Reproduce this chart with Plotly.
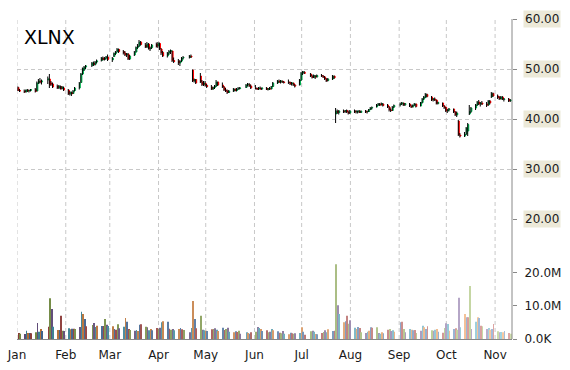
import pandas as pd
import plotly.graph_objects as go

# ---------------- data (XLNX daily, 2014) ----------------
ticker = "XLNX"
holidays = ["2014-01-01", "2014-01-20", "2014-02-17", "2014-04-18",
            "2014-05-26", "2014-07-04", "2014-09-01"]
start_date, end_date = "2014-01-02", "2014-11-11"

open_ = [
    46.3,45.7,45.6,45.4,45.8,45.6,45.7,45.9,45.6,47.2,47.6,47.4,47.8,48.0,47.2,47.0,46.6,46.2,46.5,46.1,46.2,
    45.8,45.0,45.3,45.1,45.7,46.2,47.3,49.0,49.8,50.4,50.7,51.2,50.9,51.4,51.7,52.2,51.9,52.2,52.4,
    51.8,52.5,53.1,53.5,53.9,53.5,53.2,52.8,53.0,52.0,52.8,53.4,54.3,54.6,55.4,54.8,54.4,55.0,54.0,54.3,55.0,
    54.6,55.1,54.0,53.3,52.6,53.2,53.5,53.6,51.7,51.6,51.2,51.6,52.2,52.3,52.6,49.8,47.6,47.9,48.6,47.4,46.9,
    47.2,46.7,46.4,46.0,46.3,46.6,47.4,46.8,46.4,45.8,45.6,45.3,45.6,46.0,45.7,46.0,46.1,46.3,46.8,46.9,46.6,
    46.2,46.1,46.0,46.2,46.0,46.2,45.9,46.1,46.0,46.5,47.2,47.6,47.4,47.6,47.4,47.4,47.3,47.0,47.2,46.8,46.8,
    47.8,49.2,49.4,49.0,48.6,48.3,48.6,48.4,48.7,48.6,48.4,48.0,47.7,48.0,48.6,41.0,41.6,41.3,41.6,41.5,41.7,41.4,
    41.2,41.6,41.4,41.4,41.6,41.3,41.6,41.4,41.5,41.9,42.2,42.4,42.8,43.0,42.8,43.0,42.8,42.4,41.8,41.7,42.4,
    42.8,43.0,43.2,42.8,43.0,42.6,42.4,42.8,43.0,42.6,43.3,44.0,44.4,44.9,44.4,43.8,44.0,43.8,43.1,43.2,42.6,
    42.3,41.6,41.8,42.0,41.4,40.8,39.6,36.8,36.6,37.0,37.6,41.0,41.5,42.2,42.8,43.4,43.0,43.2,43.0,42.8,43.6,44.4,45.1,
    44.6,44.3,44.0,44.4,43.9,44.0,43.6,
]
high = [
    46.5,46.0,45.9,45.9,46.0,45.9,46.0,46.2,47.5,48.0,48.2,47.9,48.5,49.0,47.6,47.3,46.9,46.8,46.7,46.6,46.5,
    46.0,45.6,45.5,45.8,46.4,47.4,49.2,50.3,50.6,50.8,51.4,51.5,51.6,51.9,52.4,52.5,52.4,52.6,52.9,
    52.4,53.3,53.6,54.2,54.1,53.8,53.6,53.2,53.2,52.8,53.6,54.5,55.0,55.8,55.6,55.2,55.4,55.2,54.5,55.0,55.3,
    55.4,55.3,54.2,53.6,53.4,53.8,53.9,53.7,52.3,52.0,51.8,52.4,52.6,52.8,52.9,49.9,48.1,48.0,49.2,47.8,47.6,
    47.6,47.0,46.8,46.5,46.8,47.8,47.5,47.3,46.6,46.2,45.9,45.8,46.2,46.1,46.2,46.4,46.4,47.0,47.2,47.2,46.9,
    46.8,46.3,46.4,46.5,46.3,46.4,46.2,46.4,46.6,47.4,47.8,47.9,47.8,47.7,47.6,47.9,47.5,47.4,47.3,47.0,48.0,
    49.4,49.6,49.6,49.2,48.9,48.9,48.8,48.9,49.0,48.8,48.6,48.2,48.2,48.8,48.7,42.2,41.9,41.8,41.9,41.8,41.9,41.7,
    41.8,41.9,41.8,41.7,41.8,41.7,41.8,41.7,42.0,42.4,42.5,43.0,43.2,43.2,43.3,43.2,43.0,42.6,42.1,42.6,42.9,
    43.3,43.4,43.3,43.2,43.2,42.9,42.9,43.2,43.1,43.4,44.2,44.6,45.2,45.1,44.6,44.2,44.3,43.9,43.5,43.3,42.8,
    42.4,42.0,42.2,42.1,41.6,41.5,39.8,37.2,37.4,38.4,39.2,42.8,42.4,43.0,43.6,43.8,43.4,43.6,43.4,43.8,43.8,45.4,45.3,
    44.9,44.6,44.6,44.6,44.2,44.2,44.0,
]
low = [
    45.6,45.4,45.2,45.3,45.4,45.3,45.5,45.3,45.5,47.0,47.1,46.9,47.0,46.2,46.6,46.2,46.0,46.0,45.9,45.9,45.6,
    44.8,44.7,44.6,45.0,45.5,45.9,47.2,48.8,49.6,50.0,50.4,50.6,50.7,51.1,51.5,51.7,51.7,51.9,51.6,
    51.4,52.4,52.8,53.3,53.2,52.9,52.6,52.4,51.8,51.8,52.6,53.3,54.0,54.4,54.7,54.2,54.2,53.9,53.6,54.0,54.3,
    54.2,53.8,52.8,52.4,52.3,52.8,53.0,51.4,51.2,50.8,50.6,51.4,51.9,52.1,52.2,47.4,47.3,47.0,47.2,46.6,46.6,
    46.5,46.2,45.8,45.8,46.0,46.4,46.6,46.2,45.6,45.4,45.0,45.2,45.4,45.5,45.5,45.8,45.9,46.2,46.5,46.4,46.0,
    45.9,45.8,45.8,45.9,45.8,45.8,45.7,45.8,45.9,46.4,47.0,47.2,47.1,47.2,47.1,47.0,46.8,46.7,46.6,46.3,46.7,
    47.6,48.8,49.0,48.4,48.1,48.2,48.0,48.3,48.4,48.2,47.8,47.4,47.5,47.8,48.0,39.2,41.0,40.9,41.2,41.2,41.2,40.9,
    41.0,41.2,41.1,41.1,41.2,41.2,41.2,41.1,41.4,41.8,41.9,42.3,42.6,42.6,42.7,42.5,42.2,41.5,41.4,41.6,42.2,
    42.5,42.8,42.6,42.6,42.4,42.2,42.3,42.6,42.3,42.5,43.1,43.8,44.2,44.3,43.6,43.5,43.6,42.9,42.9,42.4,42.0,
    41.4,41.2,41.5,41.2,40.6,40.4,36.6,36.3,36.4,36.8,36.6,40.8,41.2,41.8,42.6,42.8,42.5,42.8,42.4,42.6,42.9,44.2,44.4,
    44.0,43.8,43.9,43.8,43.5,43.4,43.4,
]
close = [
    45.7,45.6,45.4,45.8,45.6,45.7,45.9,45.5,47.2,47.6,47.4,47.6,48.0,46.8,47.0,46.4,46.2,46.6,46.0,46.4,45.8,
    45.0,45.3,45.0,45.6,46.2,47.2,49.0,50.1,50.4,50.6,51.2,50.9,51.4,51.6,52.2,51.9,52.2,52.4,51.9,
    52.2,53.1,53.4,53.9,53.5,53.2,52.8,53.0,52.0,52.6,53.4,54.3,54.6,55.4,54.9,54.4,55.0,54.0,54.2,54.8,54.5,
    55.1,54.0,53.2,52.6,53.2,53.5,53.7,51.7,51.5,51.2,51.5,52.2,52.3,52.6,52.4,47.6,47.9,47.2,47.4,46.9,47.2,
    46.7,46.5,46.0,46.3,46.6,47.4,46.8,46.4,45.8,45.6,45.3,45.6,46.0,45.7,46.0,46.1,46.2,46.8,46.9,46.6,46.2,
    46.1,46.0,46.2,46.0,46.2,45.9,46.1,46.0,46.5,47.2,47.6,47.4,47.6,47.4,47.3,47.3,47.0,47.2,46.8,46.6,47.8,
    49.2,49.4,49.1,48.6,48.3,48.7,48.4,48.7,48.6,48.4,48.0,47.6,48.0,48.6,48.2,41.6,41.3,41.6,41.5,41.7,41.4,41.2,
    41.6,41.4,41.5,41.6,41.3,41.6,41.4,41.5,41.9,42.2,42.3,42.8,43.0,42.8,43.1,42.7,42.4,41.8,41.7,42.4,42.7,
    43.0,43.2,42.8,43.1,42.6,42.4,42.8,43.0,42.5,43.3,44.0,44.4,44.9,44.5,43.8,44.0,43.8,43.1,43.3,42.6,42.3,
    41.6,41.8,42.0,41.4,40.8,41.2,36.8,36.6,36.9,38.2,38.9,41.5,42.2,42.8,43.4,43.0,43.2,43.0,42.8,43.6,43.2,45.1,44.6,
    44.3,44.0,44.4,43.9,44.0,43.6,43.8,
]
volume_m = [
    1.8,1.6,1.5,2.5,1.8,1.8,1.7,2.0,4.8,2.2,3.0,2.4,3.7,12.2,9.0,3.7,2.7,2.7,7.0,2.5,2.4,
    3.2,2.9,3.1,3.1,3.0,3.6,8.2,7.5,6.0,3.8,4.2,4.8,3.6,4.0,3.9,3.9,6.0,4.3,3.9,
    3.8,3.0,2.8,4.4,3.2,3.7,6.3,5.2,3.0,2.7,2.5,2.7,2.4,4.3,4.4,3.7,3.5,2.6,3.0,2.6,3.3,
    3.0,3.4,5.0,5.3,5.2,3.1,2.8,3.0,2.6,3.0,3.3,2.9,2.7,2.0,3.3,11.4,6.0,3.2,7.0,2.8,2.6,
    2.5,2.4,2.9,3.0,3.2,2.8,2.4,3.4,2.7,3.0,3.4,2.2,2.0,2.3,2.1,2.5,1.6,2.0,1.8,1.6,2.0,
    2.2,3.6,3.3,3.0,2.4,2.6,2.0,2.2,3.0,2.6,2.3,1.9,1.7,2.4,1.6,1.4,1.9,1.7,1.6,1.7,1.8,
    3.5,2.2,1.3,2.3,2.5,2.2,1.5,1.4,1.8,2.1,2.6,2.0,2.9,2.4,2.5,22.4,10.1,7.5,5.0,5.3,7.0,4.6,
    5.6,3.4,3.0,3.6,3.3,2.0,1.8,2.2,2.5,3.5,3.4,3.5,1.8,1.6,2.0,1.7,2.8,3.0,2.4,2.6,2.2,
    5.0,5.2,3.0,2.0,3.0,2.8,2.6,2.7,1.8,2.5,4.0,3.5,3.0,3.8,2.6,2.5,2.8,3.0,2.2,1.9,3.3,
    4.7,4.5,2.5,3.0,3.2,2.8,12.4,3.5,7.5,6.5,6.5,15.9,3.0,5.2,6.5,6.3,4.0,3.8,3.0,3.3,2.8,3.0,4.5,
    2.3,2.0,2.1,2.0,2.4,1.8,1.6,
]
price_ticks = [20, 30, 40, 50, 60]
volume_ticks = [0, 10_000_000, 20_000_000]
volume_tick_labels = ["0.0K", "10.0M", "20.0M"]
month_starts = pd.date_range("2014-01-01", "2014-11-01", freq="MS")
x_range = ["2014-01-01", "2014-11-11 18:00"]

# ---------------- derived ----------------
days = pd.bdate_range(start_date, end_date)
days = days[~days.isin(pd.to_datetime(holidays))]
n = min(len(days), len(open_), len(high), len(low), len(close), len(volume_m))
dates = list(days[:n])
open_, high, low, close, volume_m = open_[:n], high[:n], low[:n], close[:n], volume_m[:n]
volume = [v * 1e6 for v in volume_m]
body_hi = [max(o, c) for o, c in zip(open_, close)]
body_lo = [min(o, c) for o, c in zip(open_, close)]

# wick drawn slightly left of the body so the black stem shows beside the coloured body
wick_shift = pd.Timedelta(hours=10)
wick_x, wick_y = [], []
for d, lo_, hi_ in zip(dates, low, high):
    wick_x += [d - wick_shift, d - wick_shift, None]
    wick_y += [lo_, hi_, None]

palette = ["#C0504D", "#9BBB59", "#8064A2", "#4BACC6", "#F79646", "#4F81BD"]


def hex2rgb(h):
    return [int(h[i:i + 2], 16) for i in (1, 3, 5)]


vol_colors = []
for i in range(n):
    base = hex2rgb(palette[i % len(palette)])
    t = i / max(n - 1, 1)
    start = [c * 0.72 for c in base]
    end = [c + (255 - c) * 0.5 for c in base]
    col = [round(s + (e - s) * t) for s, e in zip(start, end)]
    vol_colors.append("rgb({},{},{})".format(*col))

FONT = "DejaVu Sans"
GRID = "#C8C8C8"
AXIS = "#888888"

fig = go.Figure()
fig.add_trace(go.Scatter(x=wick_x, y=wick_y, mode="lines",
                         line=dict(color="#000000", width=1),
                         hoverinfo="skip", showlegend=False,
                         xaxis="x", yaxis="y"))
fig.add_trace(go.Candlestick(x=dates, open=open_, close=close,
                             high=body_hi, low=body_lo,
                             increasing=dict(line=dict(color="#00B050", width=1), fillcolor="#00B050"),
                             decreasing=dict(line=dict(color="#FF0000", width=1), fillcolor="#FF0000"),
                             whiskerwidth=0, showlegend=False,
                             xaxis="x", yaxis="y"))
fig.add_trace(go.Bar(x=dates, y=volume, marker=dict(color=vol_colors, line=dict(width=0)),
                     showlegend=False, xaxis="x", yaxis="y2"))

shapes = []
for m in month_starts:
    shapes.append(dict(type="line", xref="x", yref="paper", x0=m, x1=m, y0=0, y1=1,
                       line=dict(color=GRID, width=1, dash="4px,3px"), layer="below"))
shapes.append(dict(type="line", xref="paper", yref="paper", x0=1, x1=1, y0=0, y1=1,
                   line=dict(color=AXIS, width=1)))

annotations = [dict(text=ticker, x=0, xref="paper", xanchor="left", xshift=5,
                    y=1, yref="paper", yanchor="top", yshift=-5, showarrow=False,
                    font=dict(family=FONT, size=19, color="#000000"))]
for v in price_ticks:
    annotations.append(dict(text=f"{v:.2f}", x=1, xref="paper", xanchor="left", xshift=11,
                            y=v, yref="y", yanchor="middle", showarrow=False,
                            bgcolor="#ECE9D8", borderpad=1,
                            font=dict(family=FONT, size=12, color="#1A1A1A")))

fig.update_layout(
    width=570, height=370,
    margin=dict(l=17, r=58, t=19, b=31, autoexpand=False),
    paper_bgcolor="white", plot_bgcolor="white",
    showlegend=False, bargap=0.45,
    font=dict(family=FONT, size=12, color="#1A1A1A"),
    xaxis=dict(type="date", range=x_range, domain=[0, 1], anchor="y2",
               rangeslider=dict(visible=False), automargin=False,
               tickformat="%b", dtick="M1", tick0="2014-01-01",
               ticks="outside", ticklen=5, tickcolor="rgba(0,0,0,0)",
               showgrid=False, zeroline=False,
               showline=True, linecolor=AXIS, linewidth=1,
               tickfont=dict(family=FONT, size=12, color="#1A1A1A")),
    yaxis=dict(domain=[0.375, 1], range=[20, 60], side="right", anchor="x",
               tickvals=price_ticks, showticklabels=False, automargin=False,
               ticks="outside", ticklen=4, tickcolor=AXIS,
               showgrid=True, gridcolor=GRID, griddash="4px,3px", gridwidth=1,
               zeroline=False, showline=False, fixedrange=True),
    yaxis2=dict(domain=[0, 0.3125], range=[0, 30_000_000], side="right", anchor="x",
                tickvals=volume_ticks, ticktext=volume_tick_labels,
                ticks="outside", ticklen=4, tickcolor=AXIS, automargin=False,
                ticklabelstandoff=5,
                showgrid=False, zeroline=False, showline=False,
                tickfont=dict(family=FONT, size=12, color="#1A1A1A")),
    shapes=shapes,
    annotations=annotations,
)

fig.write_html("out.html")
